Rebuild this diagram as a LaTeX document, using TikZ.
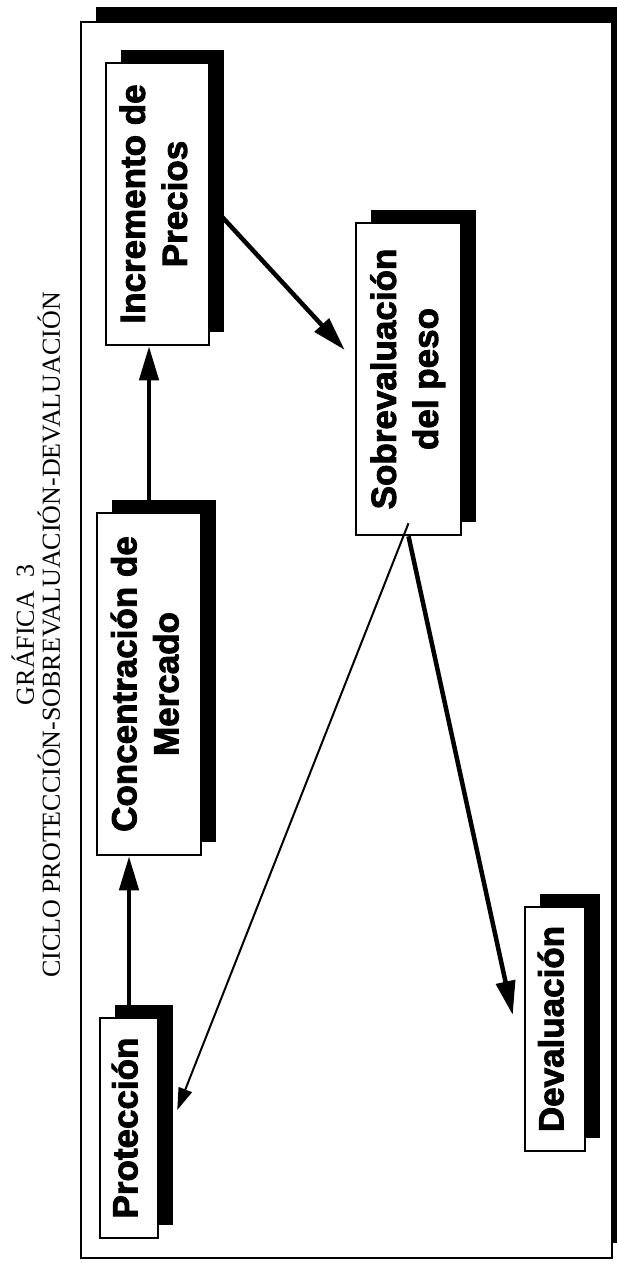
\documentclass[tikz,border=0pt]{standalone}
\usepackage{fontspec}
\setmainfont{Liberation Serif}
\setsansfont{Liberation Sans}[BoldFeatures={FakeBold=2.5}]
\usetikzlibrary{arrows.meta,shadows}
\newcommand{\vtexto}[1]{\rotatebox{90}{\begin{tabular}{@{}c@{}}#1\end{tabular}}}
\tikzset{
  caja/.style={draw, line width=2.5pt, fill=white, inner sep=0pt,
    drop shadow={shadow xshift=15pt, shadow yshift=13pt, fill=black, opacity=1},
    font=\sffamily\bfseries\fontsize{35}{42}\selectfont},
  flecha/.style={line width=4.5pt, -{Triangle[length=34pt,width=19pt]}},
  flechafina/.style={line width=2pt, -{Triangle[length=22pt,width=14pt]}}
}
\begin{document}
\begin{tikzpicture}[x=1pt,y=-1pt]
  \useasboundingbox (0,0) rectangle (617,1266);
  \node (marco) [draw, line width=2.5pt, fill=white, minimum width=531pt, minimum height=1236pt,
    drop shadow={shadow xshift=15pt, shadow yshift=15pt, fill=black, opacity=1}] at (346.5,640) {};
  \node (titulo) [rotate=90, align=center, font=\fontsize{26}{26}\selectfont] at (36,635)
    {GRÁFICA~~3\\CICLO PROTECCIÓN-SOBREVALUACIÓN-DEVALUACIÓN};
  % cajas
  \node (prot)  [caja, minimum width=58pt, minimum height=220pt] at (129,1128) {\vtexto{Protección}};
  \node (conc)  [caja, minimum width=104pt, minimum height=342pt] at (149,684) {\vtexto{Concentración de\\Mercado}};
  \node (incr)  [caja, minimum width=103pt, minimum height=282pt] at (157.5,204) {\vtexto{Incremento de\\Precios}};
  \node (sobre) [caja, minimum width=105pt, minimum height=312pt] at (408.5,379) {\vtexto{Sobrevaluación\\del peso}};
  \node (deval) [caja, minimum width=60pt, minimum height=244pt] at (555,1029) {\vtexto{Devaluación}};
  % flechas
  \draw[flecha] (prot.north) -- (prot.north |- conc.south);
  \draw[flecha] (conc.north) -- (conc.north |- incr.south);
  \draw[flecha] (incr.east) -- ([xshift=-10pt,yshift=29pt]sobre.west);
  \draw[flechafina] ([yshift=13pt]sobre.south) -- ([xshift=18pt,yshift=18pt]prot.east);
  \draw[flecha] (sobre.south) -- ([xshift=-11pt,yshift=14pt]deval.west);
\end{tikzpicture}
\end{document}
